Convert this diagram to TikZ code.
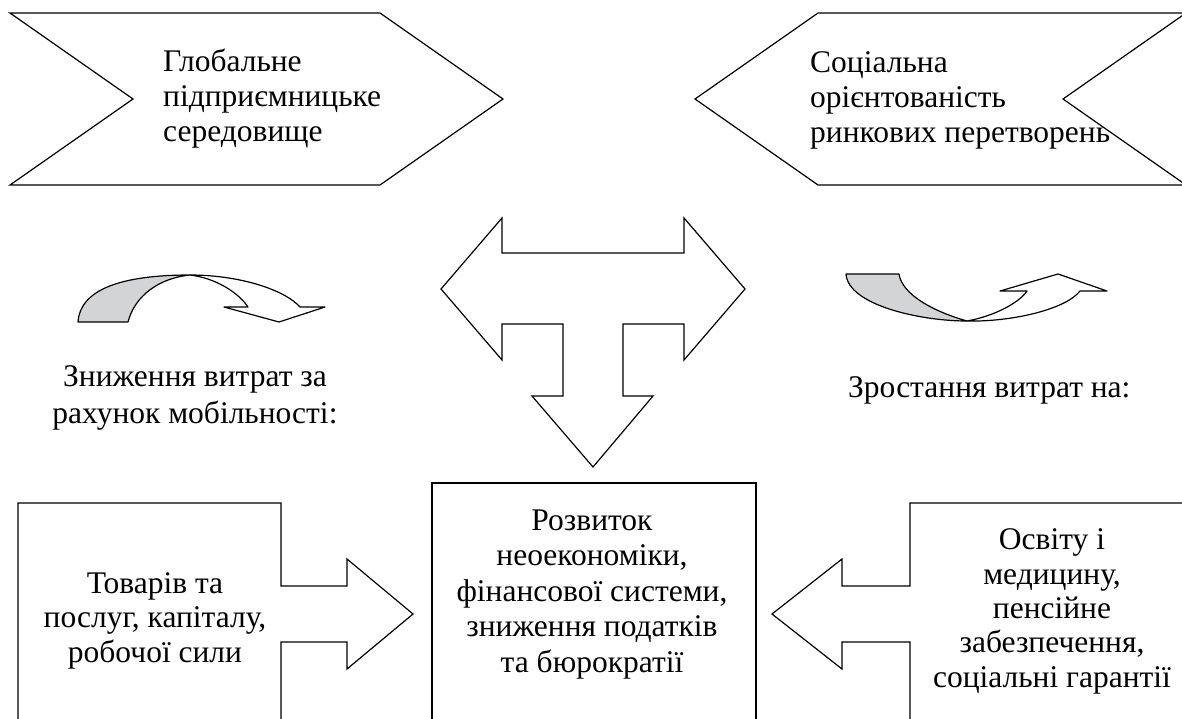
\documentclass[tikz,border=0pt]{standalone}
\usepackage{fontspec}
\setmainfont{Liberation Serif}
\definecolor{ribbongray}{RGB}{211,212,214}
\tikzset{
  shape line/.style={draw=black, line width=1.2pt, line join=miter, fill=white},
  back ribbon/.style={draw=black, line width=1.2pt, line join=round, fill=ribbongray},
  txt/.style={inner sep=0pt, font=\fontsize{31.5}{35}\selectfont},
}
\begin{document}
\begin{tikzpicture}[x=1pt, y=-1pt]
\useasboundingbox (0,0) rectangle (1182,718);

% top chevrons
\draw[shape line] (10,13) -- (380,13) -- (503,99) -- (380,185) -- (10,185) -- (133,99) -- cycle;
\draw[shape line] (818,13) -- (1186,13) -- (1063,99) -- (1186,185) -- (818,185) -- (695,99) -- cycle;
\node[txt, align=left, anchor=base west] (glob) at (163,141) {Глобальне\\підприємницьке\\середовище};
\node[txt, align=left, anchor=base west] (soc) at (810,142) {Соціальна\\орієнтованість\\ринкових перетворень};

% T-shaped three-way arrow
\draw[shape line] (441,289) -- (502,218) -- (502,253) -- (684,253) -- (684,218) -- (745,289)
  -- (684,360) -- (684,324) -- (623,324) -- (623,396) -- (653,396) -- (593,467)
  -- (532,396) -- (563,396) -- (563,324) -- (502,324) -- (502,360) -- cycle;

% left curved arrow
\draw[back ribbon] (78,322) .. controls (80,290) and (120,275) .. (190,275)
  .. controls (160,278) and (135,295) .. (128,322) -- cycle;
\draw[shape line, line join=round] (190,275) .. controls (240,275) and (285,290) .. (300,307)
  -- (325,307) -- (279,322) -- (224,307) -- (248,307)
  .. controls (238,292) and (215,278) .. (190,275) -- cycle;

% right curved arrow
\draw[back ribbon] (846,274) -- (899,274) .. controls (902,295) and (935,312) .. (967,321)
  .. controls (920,321) and (848,305) .. (846,274) -- cycle;
\draw[shape line, line join=round] (967,321) .. controls (1010,322) and (1065,310) .. (1080,291)
  -- (1107,291) -- (1058,274) -- (1000,291) -- (1027,291)
  .. controls (1020,302) and (995,316) .. (967,321) -- cycle;

\node[txt, align=center, anchor=base, font=\fontsize{31.5}{37}\selectfont] (down) at (195,423) {Зниження витрат за\\рахунок мобільності:};
\node[txt, anchor=base west] (up) at (848,397) {Зростання витрат на:};

% bottom boxes
\draw[shape line] (18,730) -- (18,503) -- (281,503) -- (281,586) -- (347,586) -- (347,559)
  -- (413,614) -- (347,669) -- (347,642) -- (281,642) -- (281,730);
\draw[shape line] (432,730) -- (432,483) -- (756,483) -- (756,730);
\draw[shape line] (1190,503) -- (910,503) -- (910,586) -- (842,586) -- (842,559)
  -- (772,614) -- (842,669) -- (842,642) -- (910,642) -- (910,730);

\node[txt, align=center, anchor=base, font=\fontsize{31.5}{34.5}\selectfont] (goods) at (155,662) {Товарів та\\послуг, капіталу,\\робочої сили};
\node[txt, align=center, anchor=base, font=\fontsize{31.5}{35.5}\selectfont] (neo) at (592,672) {Розвиток\\неоекономіки,\\фінансової системи,\\зниження податків\\та бюрократії};
\node[txt, align=center, anchor=base, font=\fontsize{31.5}{34.3}\selectfont] (edu) at (1052,687) {Освіту і\\медицину,\\пенсійне\\забезпечення,\\соціальні гарантії};
\end{tikzpicture}
\end{document}
